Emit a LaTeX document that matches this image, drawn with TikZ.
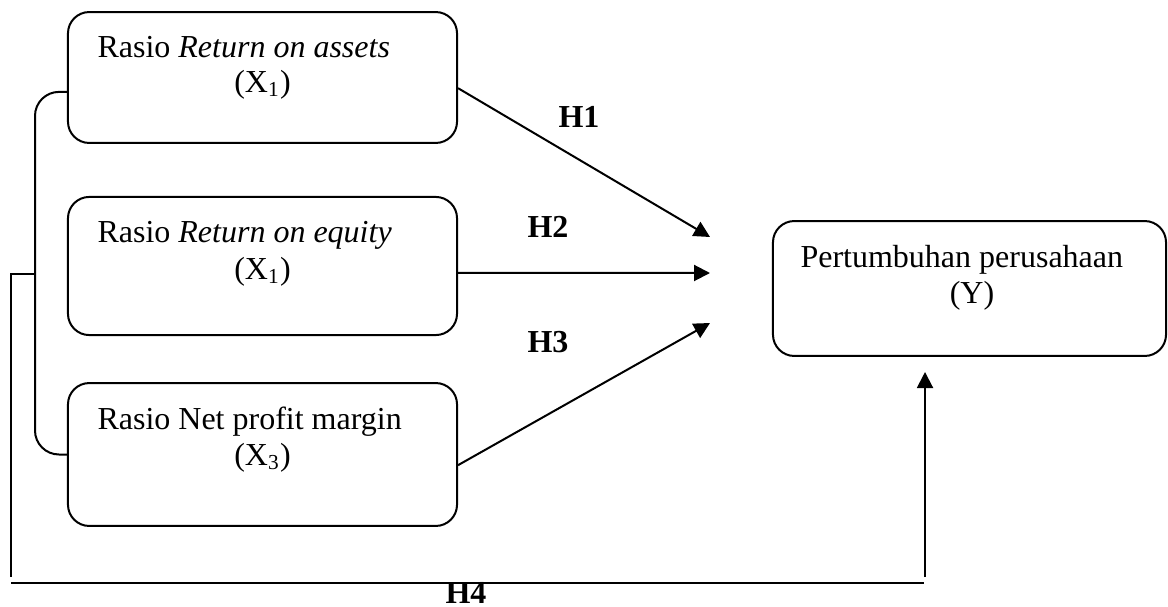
\documentclass[tikz,border=0pt]{standalone}
\usepackage{fontspec}
\setmainfont{Liberation Serif}
\usetikzlibrary{arrows.meta}

\begin{document}
\begin{tikzpicture}[x=0.375pt, y=-0.375pt,
    every node/.style={font=\fontsize{12pt}{14pt}\selectfont, inner sep=0pt},
    varbox/.style={draw, line width=0.75pt, rounded corners=8pt, minimum width=145.9pt},
    hyp/.style={anchor=base, font=\fontsize{12pt}{14pt}\selectfont\bfseries},
    link/.style={line width=0.75pt, -{Triangle[length=6pt, width=6pt]}}]
    \useasboundingbox (0,0) rectangle (1168,606);

    % variables
    \node[varbox, minimum height=49.1pt] (roa) at (262.5,77.5) {};
    \node[varbox, minimum height=51.8pt] (roe) at (262.5,266) {};
    \node[varbox, minimum height=53.6pt] (npm) at (262.5,454.5) {};
    \node[varbox, minimum height=50.6pt, minimum width=147.4pt] (growth) at (969.5,288.5) {};

    \node[anchor=base west] (roaA) at (97,58) {Rasio \textit{Return on assets}};
    \node[anchor=base] (roaB) at (262.5,92) {(X\textsubscript{1})};
    \node[anchor=base west] (roeA) at (97,242) {Rasio \textit{Return on equity}};
    \node[anchor=base] (roeB) at (262.5,279) {(X\textsubscript{1})};
    \node[anchor=base west] (npmA) at (97,429) {Rasio Net profit margin};
    \node[anchor=base] (npmB) at (262.5,465) {(X\textsubscript{3})};
    \node[anchor=base west] (growthA) at (800,267) {Pertumbuhan perusahaan};
    \node[anchor=base] (growthB) at (972,303) {(Y)};

    % partial effects
    \coordinate (t1) at (710,237);
    \coordinate (t2) at (710,273);
    \coordinate (t3) at (710,323);
    \draw[link] ([yshift=-4pt]roa.east) -- (t1);
    \draw[link] ([yshift=-2.6pt]roe.east) -- (t2);
    \draw[link] ([yshift=-4pt]npm.east) -- (t3);
    \node[hyp] (h1) at (579,127) {H1};
    \node[hyp] (h2) at (548,237) {H2};
    \node[hyp] (h3) at (548,352) {H3};

    % simultaneous effect
    \coordinate (brk) at (35,274);
    \coordinate (lft) at (11,577);
    \coordinate (bl) at (11,583);
    \coordinate (br) at (924,583);
    \coordinate (up) at (925,577);
    \coordinate (t4) at (925,372);
    \draw[line width=0.75pt, rounded corners=9pt] ([yshift=-5.4pt]roa.west) -| (brk) |- (npm.west);
    \draw[line width=0.75pt] (brk) -| (lft);
    \draw[line width=0.75pt] (bl) -- (br);
    \draw[link] (up) -- (t4);
    \node[hyp] (h4) at (466,603) {H4};
\end{tikzpicture}
\end{document}
